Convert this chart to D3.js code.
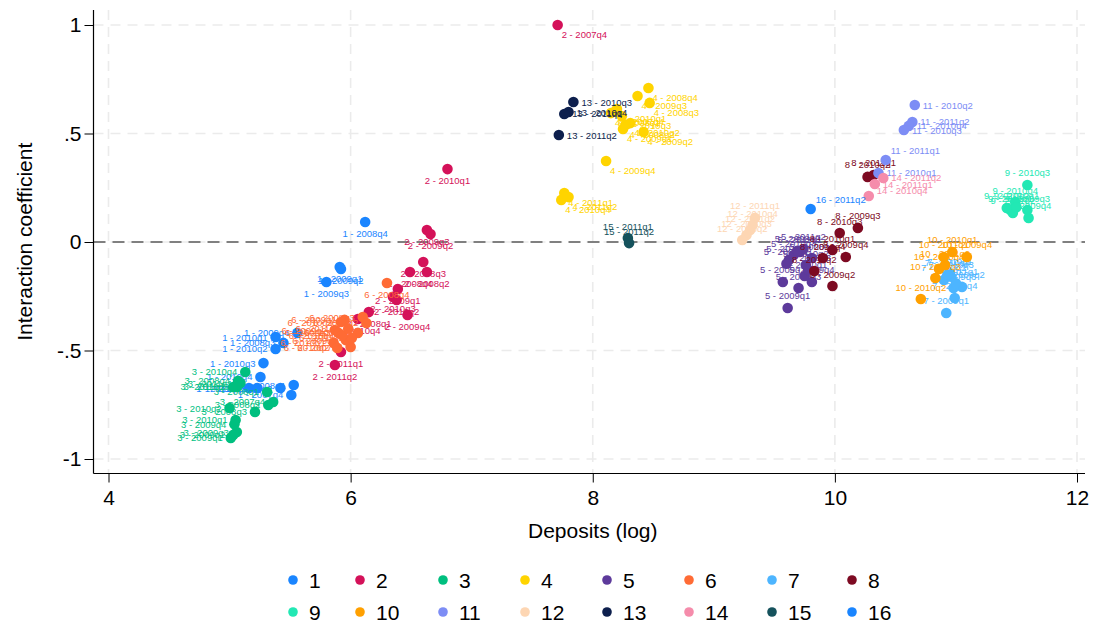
<!DOCTYPE html>
<html lang="en">
<head>
<meta charset="UTF-8">
<title>Interaction coefficient vs deposits</title>
<script src="https://cdn.jsdelivr.net/npm/d3@7/dist/d3.min.js"></script>
<style>
  body { margin: 0; background: #fff; }
  text { font-family: "Liberation Sans", Arial, Helvetica, sans-serif; }
</style>
</head>
<body>
<script>
// one array per group: [deposits (log), interaction coefficient, quarter]
var g1 = [[6.12, 0.092, "2008q4"], [5.91, -0.115, "2009q1"], [5.92, -0.124, "2009q2"], [5.80, -0.184, "2009q3"],
          [5.56, -0.419, "2009q4"], [5.38, -0.438, "2010q1"], [5.445, -0.465, "2008q3"], [5.38, -0.493, "2010q2"],
          [5.28, -0.558, "2010q3"], [5.255, -0.622, "2010q4"], [5.16, -0.673, "2011q1"], [5.23, -0.673, "2011q2"],
          [5.42, -0.673, "2008q2"], [5.53, -0.659, "2008q1"], [5.51, -0.705, "2007q4"]];
var g2 = [[7.71, 1.0, "2007q4"], [6.80, 0.336, "2010q1"], [6.63, 0.055, "2009q3"], [6.66, 0.037, "2009q2"],
          [6.60, -0.092, "2008q3"], [6.49, -0.138, "2008q4"], [6.63, -0.138, "2008q2"], [6.39, -0.217, "2009q1"],
          [6.35, -0.253, "2010q3"], [6.38, -0.267, "2010q2"], [6.47, -0.336, "2009q4"], [6.15, -0.323, "2008q1"],
          [6.06, -0.355, "2010q4"], [5.92, -0.507, "2011q1"], [5.87, -0.567, "2011q2"]];
var g3 = [[5.13, -0.599, "2010q4"], [5.09, -0.650, "2011q1"], [5.06, -0.668, "2010q3"], [5.03, -0.668, "2011q2"],
          [5.31, -0.691, "2008q1"], [5.36, -0.737, "2007q4"], [5.32, -0.751, "2008q2"], [5.00, -0.765, "2010q2"],
          [5.21, -0.783, "2008q3"], [5.05, -0.820, "2010q1"], [5.06, -0.876, "2009q3"], [5.03, -0.889, "2009q2"],
          [5.01, -0.903, "2009q1"], [5.07, -0.640, "2008q4"], [5.04, -0.840, "2009q4"]];
var g4 = [[8.46, 0.710, "2008q4"], [8.37, 0.673, "2009q3"], [8.47, 0.641, "2008q3"], [8.20, 0.613, "2010q1"],
          [8.15, 0.594, "2008q1"], [8.31, 0.548, "2010q2"], [8.27, 0.539, "2008q2"], [8.25, 0.521, "2009q1"],
          [8.42, 0.507, "2009q2"], [8.11, 0.373, "2009q4"], [7.765, 0.226, "2011q1"], [7.80, 0.207, "2011q2"],
          [7.74, 0.194, "2010q4"], [8.18, 0.600, "2007q4"], [8.24, 0.580, "2010q3"]];
var g5 = [[9.61, -0.304, "2009q1"], [9.57, -0.184, "2009q2"], [9.70, -0.212, "2009q3"], [9.81, -0.184, "2009q4"],
          [9.75, -0.157, "2010q1"], [9.76, -0.106, "2010q2"], [9.62, -0.083, "2010q3"], [9.66, -0.060, "2010q4"],
          [9.71, -0.046, "2011q1"], [9.74, -0.032, "2011q2"], [9.81, -0.074, "2008q4"], [9.78, -0.129, "2008q3"],
          [9.69, -0.040, "2008q2"], [9.60, -0.100, "2008q1"]];
var g6 = [[6.30, -0.189, "2008q4"], [5.95, -0.359, "2009q1"], [6.10, -0.346, "2008q3"], [6.13, -0.373, "2008q2"],
          [6.06, -0.419, "2008q1"], [6.00, -0.484, "2007q4"], [5.87, -0.406, "2009q2"], [5.90, -0.419, "2009q3"],
          [5.86, -0.465, "2010q1"], [5.89, -0.488, "2010q2"], [5.96, -0.452, "2009q4"], [5.92, -0.369, "2010q3"],
          [6.01, -0.442, "2011q1"], [5.93, -0.430, "2010q4"], [5.98, -0.400, "2011q2"]];
var g7 = [[10.92, -0.327, "2009q1"], [10.99, -0.258, "2009q4"], [11.05, -0.207, "2009q2"], [10.98, -0.212, "2009q3"],
          [10.95, -0.143, "2010q1"], [10.90, -0.175, "2010q2"], [10.96, -0.160, "2010q3"], [10.93, -0.150, "2010q4"],
          [11.00, -0.190, "2011q1"]];
var g8 = [[10.04, 0.041, "2010q3"], [10.19, 0.065, "2009q3"], [9.98, -0.037, "2010q1"], [10.09, -0.069, "2009q4"],
          [9.90, -0.074, "2010q4"], [9.83, -0.134, "2011q2"], [9.98, -0.203, "2009q2"], [10.27, 0.300, "2010q2"],
          [10.32, 0.309, "2011q1"]];
var g9 = [[11.59, 0.263, "2010q3"], [11.49, 0.184, "2010q4"], [11.45, 0.147, "2011q1"], [11.47, 0.134, "2011q2"],
          [11.59, 0.147, "2009q3"], [11.60, 0.111, "2009q4"], [11.42, 0.157, "2010q2"], [11.50, 0.160, "2010q1"]];
var g10 = [[10.71, -0.263, "2010q2"], [10.83, -0.166, "2010q3"], [10.86, -0.124, "2010q4"], [10.91, -0.106, "2011q2"],
           [10.90, -0.069, "2011q1"], [10.97, -0.046, "2010q1"], [11.09, -0.069, "2009q4"]];
var g11 = [[10.66, 0.631, "2010q2"], [10.64, 0.553, "2011q2"], [10.61, 0.535, "2010q4"], [10.57, 0.516, "2010q3"],
           [10.42, 0.378, "2011q1"], [10.36, 0.318, "2010q1"]];
var g12 = [[9.34, 0.111, "2011q1"], [9.32, 0.078, "2010q4"], [9.30, 0.055, "2011q2"], [9.27, 0.032, "2010q3"],
           [9.235, 0.009, "2010q2"]];
var g13 = [[7.84, 0.645, "2010q3"], [7.80, 0.599, "2010q4"], [7.765, 0.590, "2011q1"], [7.72, 0.493, "2011q2"]];
var g14 = [[10.40, 0.295, "2011q2"], [10.33, 0.267, "2011q1"], [10.28, 0.212, "2010q4"]];
var g15 = [[8.29, 0.018, "2011q1"], [8.30, -0.005, "2011q2"]];
var g16 = [[9.80, 0.152, "2011q2"]];

var groups = ["1", "2", "3", "4", "5", "6", "7", "8", "9", "10", "11", "12", "13", "14", "15", "16"];
var groupData = [g1, g2, g3, g4, g5, g6, g7, g8, g9, g10, g11, g12, g13, g14, g15, g16];

var xTicks = [4, 6, 8, 10, 12];
var yTicks = [-1, -0.5, 0, 0.5, 1];
var yTickLabels = ["-1", "-.5", "0", ".5", "1"];

// styling
var colors = ["#1a85ff", "#d41159", "#00bf7f", "#ffd400", "#5d3a9b", "#ff6b35", "#4db5ff", "#7d0a22",
              "#22e8b4", "#ffa000", "#7d8df5", "#fdd6b3", "#0d1f4d", "#f58cab", "#15525c", "#1a85ff"];
// clock position of the marker labels, per group, with a few exceptions
var clockPos = [9, 6, 9, 4, 12, 9, 12, 12, 12, 12, 3, 12, 3, 3, 12, 1];
var clockOverride = {
    "2 - 2007q4": 4, "11 - 2011q1": 1, "14 - 2010q4": 2, "6 - 2008q4": 6,
    "1 - 2008q4": 6, "1 - 2009q1": 6, "1 - 2009q2": 6, "1 - 2009q3": 6
};

var width = 1096, height = 628;
var frame = { left: 93.5, right: 1085, top: 10, bottom: 473.5 };

var svg = d3.select("body").append("svg").attr("width", width).attr("height", height);

var x = d3.scaleLinear().domain([4, 12]).range([108.5, 1077]);
var y = d3.scaleLinear().domain([-1, 1]).range([459, 25]);

// grid
var grid = svg.append("g");
grid.selectAll("line.gy").data(yTicks).enter().append("line")
    .attr("x1", frame.left).attr("x2", frame.right)
    .attr("y1", function (d) { return y(d); }).attr("y2", function (d) { return y(d); })
    .attr("stroke", "#ebebeb").attr("stroke-width", 1.6).attr("stroke-dasharray", "10,7");
grid.selectAll("line.gx").data(xTicks).enter().append("line")
    .attr("y1", frame.top).attr("y2", frame.bottom)
    .attr("x1", function (d) { return x(d); }).attr("x2", function (d) { return x(d); })
    .attr("stroke", "#ebebeb").attr("stroke-width", 1.6).attr("stroke-dasharray", "10,7");

// zero reference line
svg.append("line")
    .attr("x1", frame.left).attr("x2", frame.right)
    .attr("y1", y(0)).attr("y2", y(0))
    .attr("stroke", "#808080").attr("stroke-width", 2).attr("stroke-dasharray", "12,7");

// axes
var xAxis = d3.axisBottom(x).tickValues(xTicks).tickSize(9).tickPadding(8).tickSizeOuter(0);
var yAxis = d3.axisLeft(y).tickValues(yTicks).tickSize(9).tickPadding(3).tickSizeOuter(0)
    .tickFormat(function (d, i) { return yTickLabels[i]; });

var gx = svg.append("g").attr("transform", "translate(0," + frame.bottom + ")").call(xAxis);
gx.select(".domain").attr("d", "M" + frame.left + ",0H" + frame.right);
var gy = svg.append("g").attr("transform", "translate(" + frame.left + ",0)").call(yAxis);
gy.select(".domain").attr("d", "M0," + frame.top + "V" + frame.bottom);
svg.selectAll(".tick line").attr("stroke", "#000");
svg.selectAll(".domain").attr("stroke", "#000").attr("stroke-width", 1.2);
svg.selectAll(".tick text").attr("font-size", 21).attr("fill", "#000")
    .style("font-family", "'Liberation Sans', Arial, sans-serif");

svg.append("text").attr("x", x(8)).attr("y", 538).attr("text-anchor", "middle")
    .attr("font-size", 21).text("Deposits (log)");
svg.append("text").attr("transform", "translate(32," + ((frame.top + frame.bottom) / 2) + ") rotate(-90)")
    .attr("text-anchor", "middle").attr("font-size", 21).text("Interaction coefficient");

// label placement for each clock position
function labelOffset(p) {
    if (p === 1) return { dx: 5, dy: -6, anchor: "start" };
    if (p === 2) return { dx: 8, dy: -2, anchor: "start" };
    if (p === 3) return { dx: 8, dy: 3.5, anchor: "start" };
    if (p === 4) return { dx: 4, dy: 13, anchor: "start" };
    if (p === 9) return { dx: -8, dy: 3.5, anchor: "end" };
    if (p === 12) return { dx: 0, dy: -8.5, anchor: "middle" };
    return { dx: 0, dy: 15, anchor: "middle" };
}

// markers then labels, group by group
groupData.forEach(function (data, gi) {
    var g = svg.append("g");
    var col = colors[gi];
    g.selectAll("circle").data(data).enter().append("circle")
        .attr("cx", function (d) { return x(d[0]); })
        .attr("cy", function (d) { return y(d[1]); })
        .attr("r", 5.3).attr("fill", col);
    g.selectAll("text").data(data).enter().append("text")
        .each(function (d) {
            var lab = groups[gi] + " - " + d[2];
            var p = clockOverride[lab] || clockPos[gi];
            var o = labelOffset(p);
            d3.select(this)
                .attr("x", x(d[0]) + o.dx)
                .attr("y", y(d[1]) + o.dy)
                .attr("text-anchor", o.anchor)
                .text(lab);
        })
        .attr("font-size", 9.5).attr("fill", col);
});

// legend
var legendX = [293, 360, 443, 525, 607, 689, 772, 852];
var legendY = [580, 612];
var leg = svg.append("g");
groups.forEach(function (name, i) {
    var cx = legendX[i % 8], cy = legendY[Math.floor(i / 8)];
    leg.append("circle").attr("cx", cx).attr("cy", cy).attr("r", 4.8).attr("fill", colors[i]);
    leg.append("text").attr("x", cx + 16).attr("y", cy + 7.5).attr("font-size", 21).text(name);
});
</script>
</body>
</html>
